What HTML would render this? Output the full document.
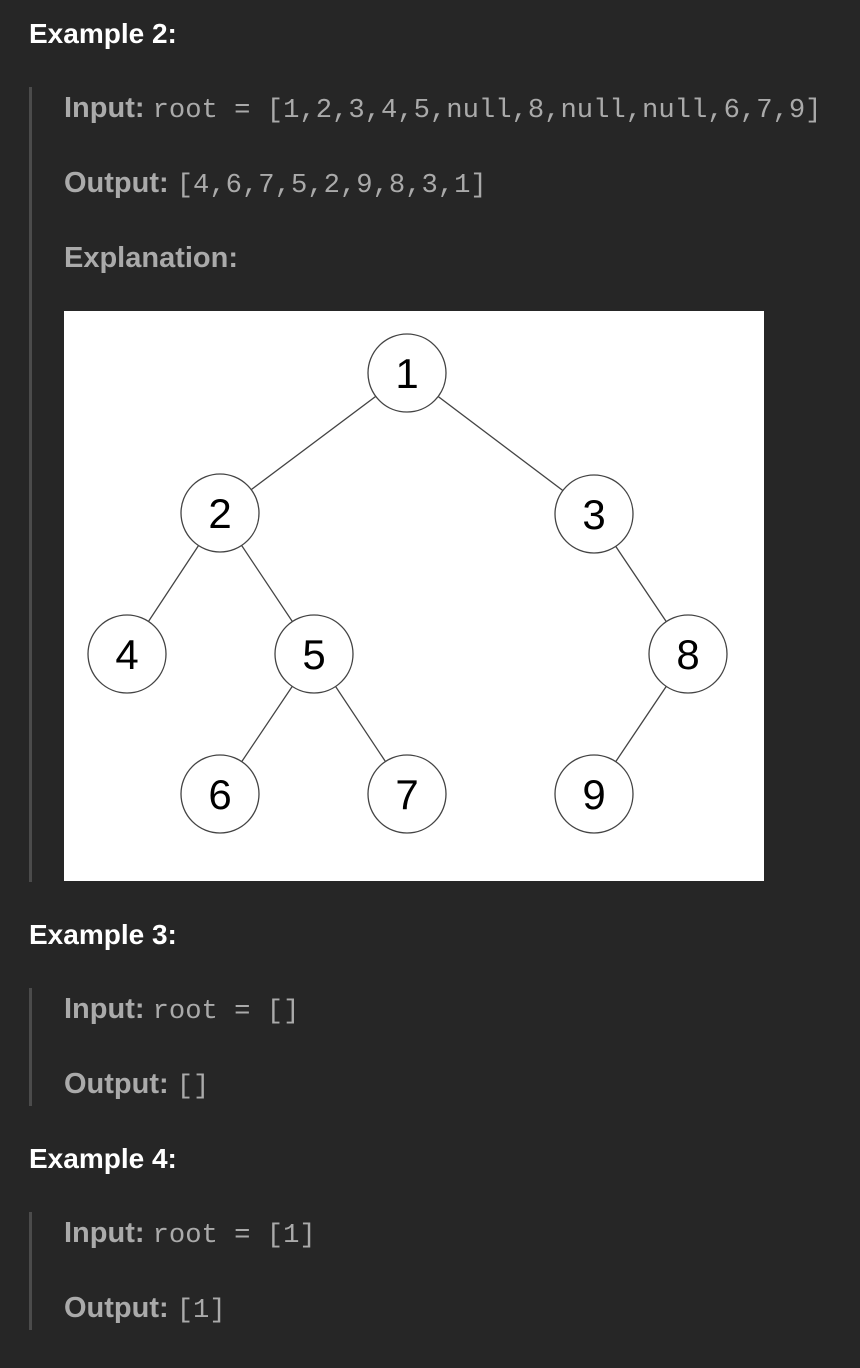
<!DOCTYPE html>
<html><head><style>
body{margin:0;width:860px;height:1368px;background:#262626;position:relative;overflow:hidden;font-family:"Liberation Sans",sans-serif}
.t{position:absolute;white-space:nowrap}
.h{color:#fff;font-weight:bold;font-size:28px;left:29px}
.l{color:#aaa;font-size:29px;left:64px}
.l b{font-weight:bold}
.m{font-family:"Liberation Mono",monospace;font-size:27.2px}
.bar{position:absolute;left:29px;width:3px;background:#4b4b4b}
</style></head><body>
<div class="t h" style="top:18px">Example 2:</div>
<div class="bar" style="top:87px;height:795px"></div>
<div class="t l" style="top:92px"><b>Input:</b> <span class="m">root = [1,2,3,4,5,null,8,null,null,6,7,9]</span></div>
<div class="t l" style="top:167px"><b>Output:</b> <span class="m">[4,6,7,5,2,9,8,3,1]</span></div>
<div class="t l" style="top:242px"><b>Explanation:</b></div>
<svg style="position:absolute;left:64px;top:311px" width="700" height="570" viewBox="64 311 700 570">
<rect x="64" y="311" width="700" height="570" fill="#fff"/>
<g stroke="#444" stroke-width="1.3">
<line x1="407" y1="373" x2="220" y2="513"/><line x1="407" y1="373" x2="594" y2="514"/>
<line x1="220" y1="513" x2="127" y2="654"/><line x1="220" y1="513" x2="314" y2="654"/>
<line x1="594" y1="514" x2="688" y2="654"/><line x1="314" y1="654" x2="220" y2="794"/>
<line x1="314" y1="654" x2="407" y2="794"/><line x1="688" y1="654" x2="594" y2="794"/>
</g>
<g fill="#fff" stroke="#444" stroke-width="1.3">
<circle cx="407" cy="373" r="39"/><circle cx="220" cy="513" r="39"/><circle cx="594" cy="514" r="39"/>
<circle cx="127" cy="654" r="39"/><circle cx="314" cy="654" r="39"/><circle cx="688" cy="654" r="39"/>
<circle cx="220" cy="794" r="39"/><circle cx="407" cy="794" r="39"/><circle cx="594" cy="794" r="39"/>
</g>
<g font-family="Liberation Sans,sans-serif" font-size="42" text-anchor="middle" fill="#000">
<text x="407" y="388">1</text><text x="220" y="528">2</text><text x="594" y="529">3</text>
<text x="127" y="669">4</text><text x="314" y="669">5</text><text x="688" y="669">8</text>
<text x="220" y="809">6</text><text x="407" y="809">7</text><text x="594" y="809">9</text>
</g>
</svg>
<div class="t h" style="top:919px">Example 3:</div>
<div class="bar" style="top:988px;height:118px"></div>
<div class="t l" style="top:993px"><b>Input:</b> <span class="m">root = []</span></div>
<div class="t l" style="top:1068px"><b>Output:</b> <span class="m">[]</span></div>
<div class="t h" style="top:1143px">Example 4:</div>
<div class="bar" style="top:1212px;height:118px"></div>
<div class="t l" style="top:1217px"><b>Input:</b> <span class="m">root = [1]</span></div>
<div class="t l" style="top:1292px"><b>Output:</b> <span class="m">[1]</span></div>
</body></html>
